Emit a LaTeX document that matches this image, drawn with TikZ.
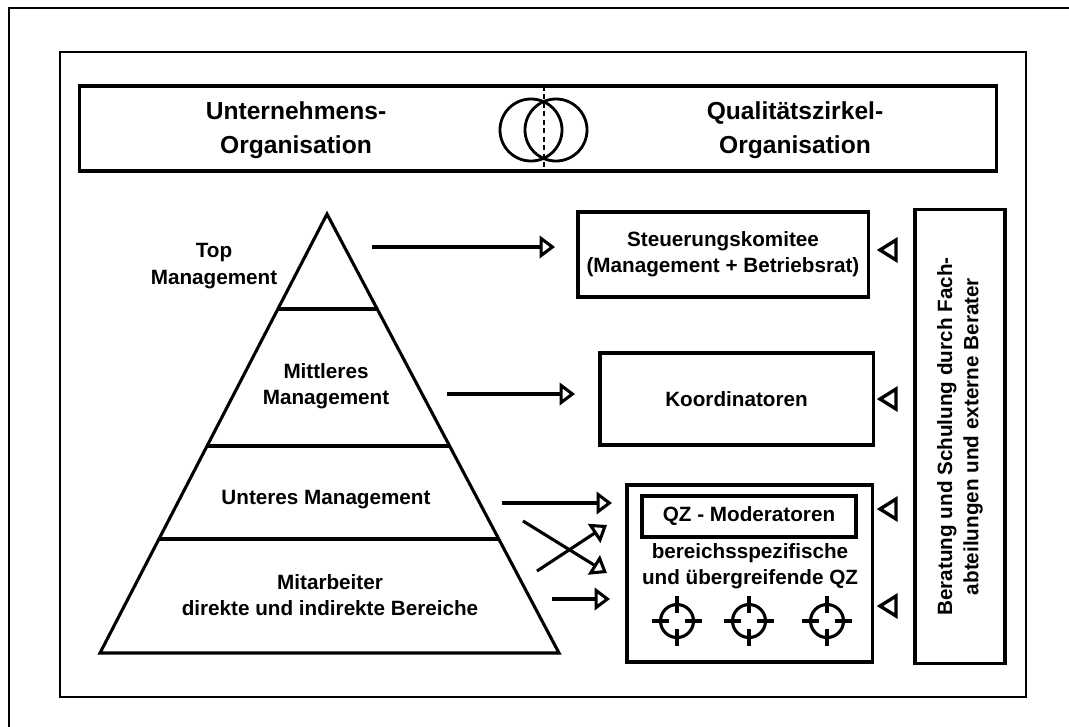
\documentclass[tikz,border=0pt]{standalone}
\usepackage{fontspec}
\setmainfont{Liberation Sans}
\usetikzlibrary{arrows.meta,calc}

\begin{document}
\begin{tikzpicture}[x=0.025cm,y=-0.025cm,
    >={Triangle[open,length=11pt,width=16pt]},
    txt/.style={font=\bfseries\fontsize{14.7}{18.7}\selectfont,align=center,inner sep=0pt},
    kopftxt/.style={font=\bfseries\fontsize{17.5}{24}\selectfont,align=center,inner sep=0pt},
    kasten/.style={draw,line width=2.2pt,inner sep=0pt},
    pfeil/.style={->,line width=2.2pt}]

\clip (0,0) rectangle (1069,726);
\useasboundingbox (0,0) rectangle (1069,726);

% Rahmen
\draw[line width=1.2pt] (9,8) rectangle (1100,760);
\draw[line width=1.2pt] (60,52) rectangle (1026,697);

% Kopfzeile
\node[kasten,minimum width=22.9cm,minimum height=2.125cm] (kopf) at (538,128.5) {};
\node[kopftxt] (uo) at (296,130) {Unternehmens-\\Organisation};
\node[kopftxt] (qo) at (795,130) {Qualitätszirkel-\\Organisation};
\coordinate (d1) at (544,86);
\coordinate (d2) at (544,171);
\draw[line width=1.6pt,dash pattern=on 3.5pt off 2.5pt] (d1) -- (d2);
\draw[line width=2pt] (531,130) circle[radius=0.775cm];
\draw[line width=2pt] (556,130) circle[radius=0.775cm];

% Pyramide
\coordinate (spitze) at (327,214);
\coordinate (links) at (100,653);
\coordinate (rechts) at (559,653);
\draw[line width=2.2pt] (spitze) -- (links) -- (rechts) -- cycle;
\foreach \t in {0.2164,0.5285,0.7403}
{
    \draw[line width=2.2pt] ($(spitze)!\t!(links)$) -- ($(spitze)!\t!(rechts)$);
}
\node[txt] (top) at (214,266) {Top\\Management};
\node[txt] (mittel) at (326,386) {Mittleres\\Management};
\node[txt] (unten) at (326,500) {Unteres Management};
\node[txt] (mitarb) at (330,595) {Mitarbeiter\\direkte und indirekte Bereiche};

% Gremien
\node[kasten,txt,minimum width=7.25cm,minimum height=2.125cm] (steuer) at (723,254.5)
    {Steuerungskomitee\\(Management + Betriebsrat)};
\node[kasten,txt,minimum width=6.825cm,minimum height=2.3cm] (koord) at (736.5,399) {Koordinatoren};
\node[kasten,minimum width=6.125cm,minimum height=4.425cm] (qz) at (749.5,573.5) {};
\node[kasten,txt,minimum width=5.35cm,minimum height=1.025cm] (moder) at (749,516.5) {QZ - Moderatoren};
\node[txt] (bereich) at (750,566) {bereichsspezifische\\und übergreifende QZ};
\foreach \x in {677,749,827}
{
    \draw[line width=2.2pt] (\x,621) circle[radius=0.4125cm];
    \draw[line width=2.4pt] (\x-25,621) -- (\x-8,621);  \draw[line width=2.4pt] (\x+8,621) -- (\x+25,621);
    \draw[line width=2.4pt] (\x,596) -- (\x,613);  \draw[line width=2.4pt] (\x,629) -- (\x,646);
}
\node[kasten,txt,rotate=90,minimum width=11.325cm,minimum height=2.25cm] (berat) at (960,436.5)
    {Beratung und Schulung durch Fach-\\abteilungen und externe Berater};

% Pfeile
\coordinate (t1) at (372,247);  \coordinate (t2) at (555,247);
\coordinate (m1) at (447,394);  \coordinate (m2) at (575,394);
\coordinate (u1) at (502,503);  \coordinate (u2) at (612,503);
\coordinate (x1) at (523,521);  \coordinate (x2) at (607,573);
\coordinate (x3) at (537,571);  \coordinate (x4) at (607,525);
\coordinate (b1) at (552,599);  \coordinate (b2) at (610,599);
\draw[pfeil] (t1) -- (t2);
\draw[pfeil] (m1) -- (m2);
\draw[pfeil] (u1) -- (u2);
\draw[pfeil] (x1) -- (x2);
\draw[pfeil] (x3) -- (x4);
\draw[pfeil] (b1) -- (b2);

\foreach \y in {250,399,509,606}
{
    \draw[line width=2.4pt] (880,\y) -- (896,\y-10) -- (896,\y+10) -- cycle;
}

\end{tikzpicture}
\end{document}
